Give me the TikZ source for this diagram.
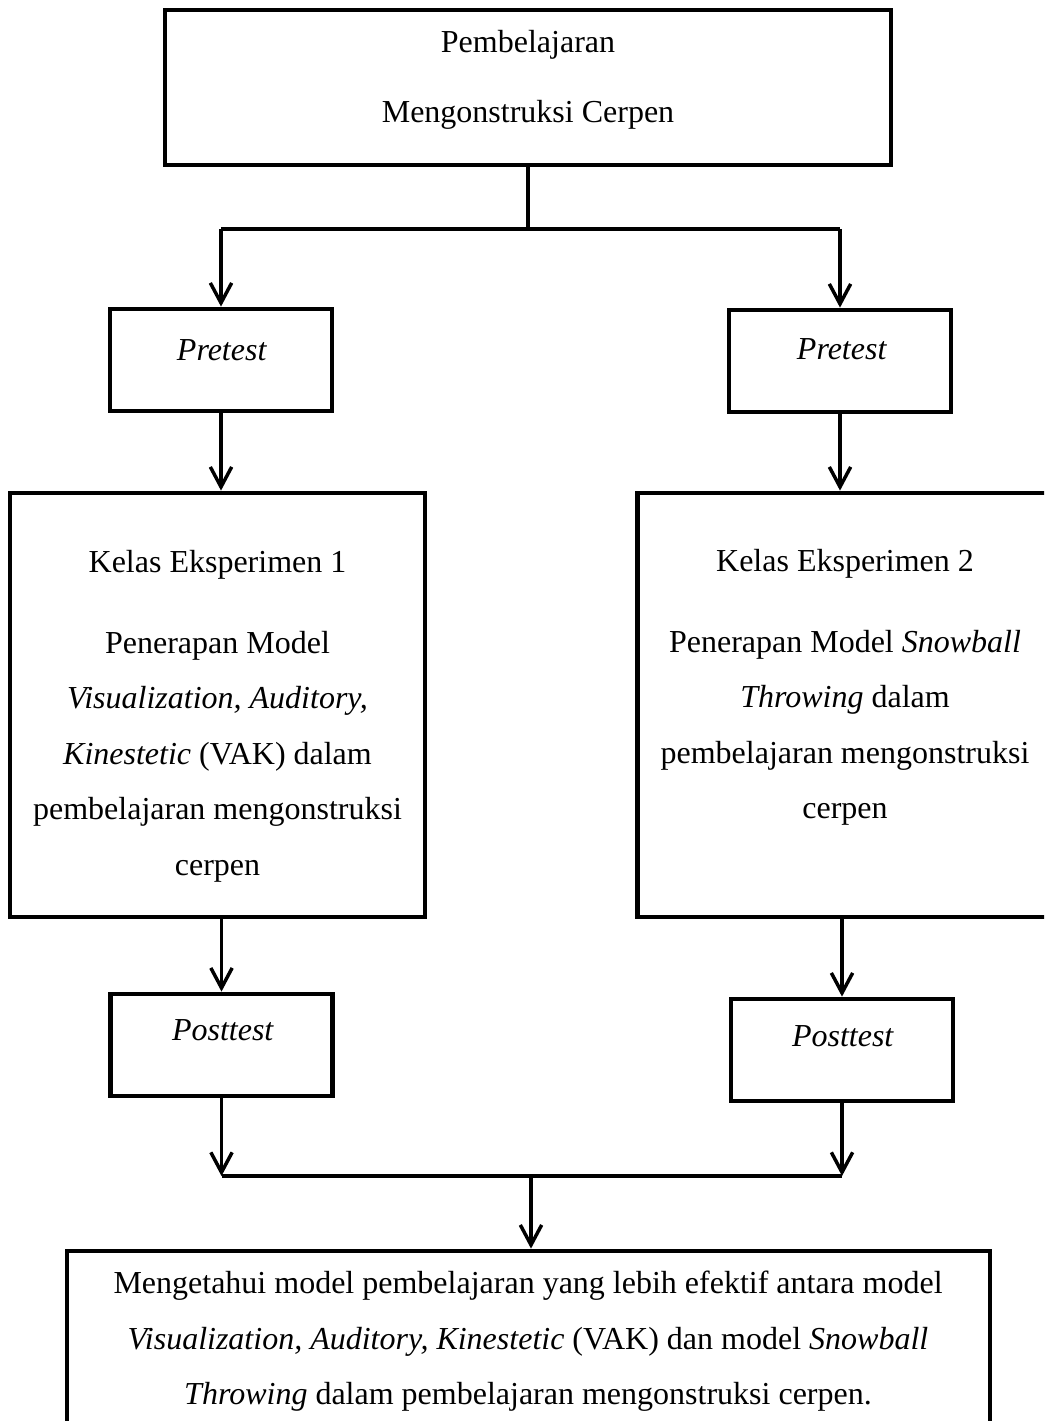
\documentclass[tikz,border=0pt]{standalone}
\usepackage{fontspec}
\setmainfont{Liberation Serif}
\usetikzlibrary{arrows.meta}

\newlength\pxu
\setlength\pxu{0.375pt}

\tikzset{
  box/.style={draw, line width=1.8pt, minimum width=#1},
  boxtext/.style={align=center, inner sep=0pt, font=\fontsize{12}{20.8}\selectfont},
  link/.style={line width=1.3pt},
  arrow/.style={line width=1.3pt, -{Straight Barb[length=7.5pt,width=8pt]}}
}

\begin{document}
\begin{tikzpicture}[x=\pxu, y=-\pxu]
\clip (0,0) rectangle (1044,1421);

\node [box=726\pxu, minimum height=155\pxu] (top) at (528,87.5) {};
\node [box=222\pxu, minimum height=102\pxu] (pre1) at (221,360) {};
\node [box=222\pxu, minimum height=102\pxu] (pre2) at (840,361) {};
\node [box=415\pxu, minimum height=424\pxu] (kelas1) at (217.5,705) {};
\node [box=415\pxu, minimum height=424\pxu] (kelas2) at (845,705) {};
\node [box=222\pxu, minimum height=102\pxu] (post1) at (221.5,1045) {};
\node [box=222\pxu, minimum height=102\pxu] (post2) at (842,1050) {};
\node [box=923\pxu, minimum height=199\pxu] (hasil) at (528.5,1350.5) {};

\node [boxtext] (top-txt) at (528,80) {Pembelajaran\\[5.2pt]Mengonstruksi Cerpen};
\node [boxtext] (pre1-txt) at (222,350) {\textit{Pretest}};
\node [boxtext] (pre2-txt) at (842,349) {\textit{Pretest}};
\node [boxtext] (kelas1-txt) at (217.5,716) {Kelas Eksperimen 1\\[9.6pt]Penerapan Model\\\textit{Visualization, Auditory,}\\\textit{Kinestetic} (VAK) dalam\\pembelajaran mengonstruksi\\cerpen};
\node [boxtext] (kelas2-txt) at (845,687.5) {Kelas Eksperimen 2\\[9.6pt]Penerapan Model \textit{Snowball}\\\textit{Throwing} dalam\\pembelajaran mengonstruksi\\cerpen};
\node [boxtext] (post1-txt) at (223,1030) {\textit{Posttest}};
\node [boxtext] (post2-txt) at (843,1036) {\textit{Posttest}};
\node [boxtext] (hasil-txt) at (528,1341.5) {Mengetahui model pembelajaran yang lebih efektif antara model\\\textit{Visualization, Auditory, Kinestetic} (VAK) dan model \textit{Snowball}\\\textit{Throwing} dalam pembelajaran mengonstruksi cerpen.};

\coordinate (split) at (528,229);
\coordinate (join) at (531,1176);

\draw [link] (top.south) -- (split);
\draw [link] (split -| pre1) -- (split -| pre2);
\draw [arrow] (split -| pre1) -- (pre1.north);
\draw [arrow] (split -| pre2) -- (pre2.north);
\draw [arrow] (pre1.south) -- (pre1.south |- kelas1.north);
\draw [arrow] (pre2.south) -- (pre2.south |- kelas2.north);
\draw [arrow] (post1.north |- kelas1.south) -- (post1.north);
\draw [arrow] (post2.north |- kelas2.south) -- (post2.north);
\draw [arrow] (post1.south) -- (post1.south |- join);
\draw [arrow] (post2.south) -- (post2.south |- join);
\draw [link] (post1.south |- join) -- (post2.south |- join);
\draw [arrow] (join) -- (join |- hasil.north);
\end{tikzpicture}
\end{document}
